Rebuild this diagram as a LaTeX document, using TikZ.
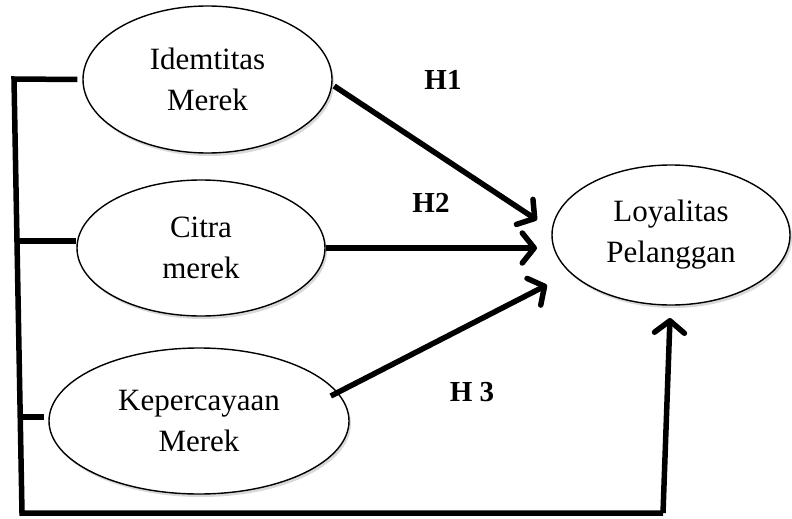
\documentclass[tikz,border=0pt]{standalone}
\usepackage{fontspec}
\setmainfont{Liberation Serif}
\usetikzlibrary{shapes.geometric,arrows.meta,shadows}
\begin{document}
\begin{tikzpicture}[x=1pt,y=-1pt,
  latent/.style={ellipse,draw,line width=1.4pt,fill=white,inner sep=0pt,align=center,
    font=\fontsize{31}{41}\selectfont,
    drop shadow={shadow xshift=2pt,shadow yshift=-3pt,opacity=0.15,fill=black}},
  hyp/.style={font=\bfseries\fontsize{29}{34}\selectfont},
  barline/.style={line width=5.5pt,line join=miter},
  arr/.style={line width=5.5pt,-{Straight Barb[length=12pt,width=30pt,round]}}]
\useasboundingbox (0,0) rectangle (792,519);
% latent variables
\node[latent,minimum width=249pt,minimum height=147pt] (e1) at (207.5,79.5) {Idemtitas\\Merek};
\node[latent,minimum width=248pt,minimum height=136pt] (e2) at (201,248) {Citra\\merek};
\node[latent,minimum width=300pt,minimum height=146pt] (e3) at (199,421) {Kepercayaan\\Merek};
\node[latent,minimum width=238pt,minimum height=140pt] (e4) at (671,235) {Loyalitas\\Pelanggan};
% hypothesis labels
\node[hyp] (h1) at (443,80) {H1};
\node[hyp] (h2) at (431,203) {H2};
\node[hyp] (h3) at (472,392) {H 3};
% arrow end points
\coordinate (t1) at (537,220);
\coordinate (t2) at (537,248);
\coordinate (t3) at (547,285);
% hypothesis arrows
\draw[arr] ([xshift=2pt]e1.-3) -- (t1);
\draw[arr] (e2.east) -- (t2);
\draw[arr] ([xshift=-10pt]e3.10) -- (t3);
% bracket
\coordinate (tl) at (14,79);
\coordinate (bl) at (22,513);
\coordinate (br) at (663,513);
\coordinate (s2) at (17,241);
\coordinate (s3) at (20,417);
\coordinate (t4) at (670,318);
\draw[barline] ([xshift=-5pt]e1.west) -- (tl) -- (bl) -- (br);
\draw[barline] (s2) -- (s2 -| e2.west);
\draw[barline] (s3) -- ([xshift=-4pt]s3 -| e3.west);
\draw[arr] (br) -- (t4);
\end{tikzpicture}
\end{document}
